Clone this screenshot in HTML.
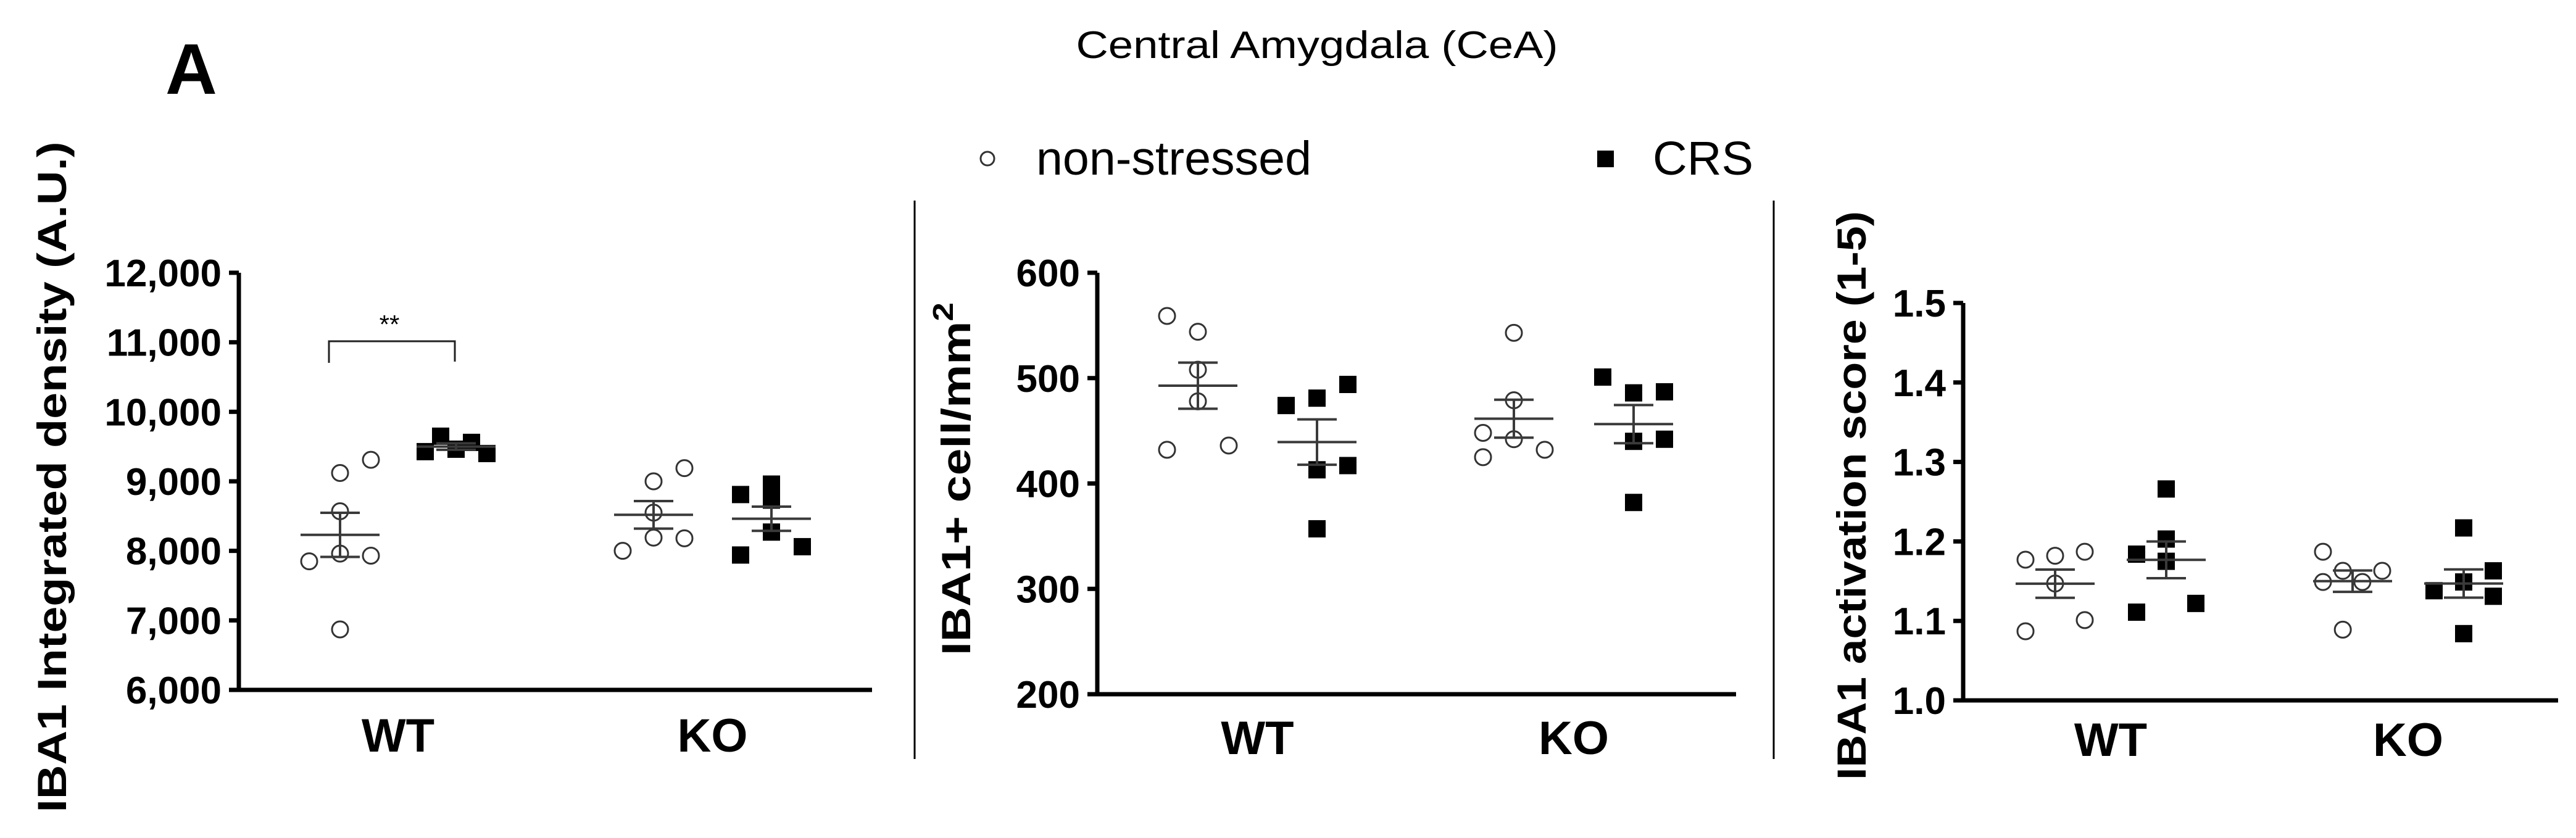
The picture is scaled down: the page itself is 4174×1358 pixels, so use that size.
<!DOCTYPE html>
<html><head><meta charset="utf-8"><style>
html,body{margin:0;padding:0;background:#fff}
svg{display:block}
text{font-family:"Liberation Sans",Arial,sans-serif}
</style></head><body>
<svg id="fig" width="4174" height="1358" viewBox="0 0 4174 1358" xmlns="http://www.w3.org/2000/svg">
<text x="268" y="152" font-size="116" font-weight="bold">A</text>
<text x="2134" y="94" font-size="62" text-anchor="middle" textLength="781" lengthAdjust="spacingAndGlyphs">Central Amygdala (CeA)</text>
<circle cx="1600" cy="257" r="11" fill="none" stroke="#333" stroke-width="3"/>
<text x="1679" y="283" font-size="77" textLength="446" lengthAdjust="spacingAndGlyphs">non-stressed</text>
<rect x="2588" y="244" width="27" height="27" fill="#000"/>
<text x="2678" y="283" font-size="77" textLength="163" lengthAdjust="spacingAndGlyphs">CRS</text>
<line x1="1482" y1="325" x2="1482" y2="1230" stroke="#000" stroke-width="3"/>
<line x1="2874" y1="325" x2="2874" y2="1230" stroke="#000" stroke-width="3"/>
<text x="631" y="540" font-size="42" text-anchor="middle">**</text>
<path d="M533 588 V553 H737 V586" fill="none" stroke="#222" stroke-width="3"/>
<g id="plots"></g>
</svg>
<script>
// ---- Panel 1: integrated density ----
const p1Categories = ["WT", "KO"];
const p1Ticks = [6000, 7000, 8000, 9000, 10000, 11000, 12000];
const p1TickLabels = ["6,000", "7,000", "8,000", "9,000", "10,000", "11,000", "12,000"];
const p1WtNs = [9120, 9310, 8570, 7960, 7850, 7930, 6870];
const p1WtCrs = [9427, 9649, 9462, 9560, 9400];
const p1KoNs = [8000, 9000, 9190, 8550, 8190, 8180];
const p1KoCrs = [8810, 8960, 8730, 8270, 7940, 8060];
const p1WtNsCol = [0, 1, 0, 0, -1, 1, 0];
const p1WtCrsCol = [-1, -0.5, 0, 0.5, 1];
const p1KoNsCol = [-1, 0, 1, 0, 0, 1];
const p1KoCrsCol = [-1, 0, 0, 0, -1, 1];
// ---- Panel 2: cell density ----
const p2Categories = ["WT", "KO"];
const p2Ticks = [200, 300, 400, 500, 600];
const p2TickLabels = ["200", "300", "400", "500", "600"];
const p2WtNs = [559, 544, 508, 478, 432, 436];
const p2WtCrs = [474, 481, 494, 413, 417, 357];
const p2KoNs = [543, 479, 448, 442, 432, 425];
const p2KoCrs = [501, 486, 487, 440, 442, 382];
const p2WtNsCol = [-1, 0, 0, 0, -1, 1];
const p2WtCrsCol = [-1, 0, 1, 0, 1, 0];
const p2KoNsCol = [0, 0, -1, 0, 1, -1];
const p2KoCrsCol = [-1, 0, 1, 0, 1, 0];
// ---- Panel 3: activation score ----
const p3Categories = ["WT", "KO"];
const p3Ticks = [1.0, 1.1, 1.2, 1.3, 1.4, 1.5];
const p3TickLabels = ["1.0", "1.1", "1.2", "1.3", "1.4", "1.5"];
const p3WtNs = [1.177, 1.182, 1.187, 1.147, 1.087, 1.101];
const p3WtCrs = [1.266, 1.203, 1.184, 1.175, 1.111, 1.122];
const p3KoNs = [1.187, 1.163, 1.163, 1.149, 1.149, 1.089];
const p3KoCrs = [1.217, 1.163, 1.149, 1.138, 1.131, 1.084];
const p3WtNsCol = [-1, 0, 1, 0, -1, 1];
const p3WtCrsCol = [0, 0, -1, 0, -1, 1];
const p3KoNsCol = [-1, -0.33, 1, -1, 0.33, -0.33];
const p3KoCrsCol = [0, 1, 0, -1, 1, 0];

const NS = "http://www.w3.org/2000/svg";
const root = document.getElementById("plots");
function mk(tag, attrs, parent) {
  const e = document.createElementNS(NS, tag);
  for (const k in attrs) e.setAttribute(k, attrs[k]);
  (parent || root).appendChild(e);
  return e;
}
function stats(a) {
  const m = a.reduce((s, v) => s + v, 0) / a.length;
  const sd = Math.sqrt(a.reduce((s, v) => s + (v - m) * (v - m), 0) / (a.length - 1));
  return [m, sd / Math.sqrt(a.length)];
}
function panel(id, L) {
  const g = mk("g", {});
  
  
  const ymin = L.ticks[0], ymax = L.ticks[L.ticks.length - 1];
  const y = v => L.yBot - (v - ymin) / (ymax - ymin) * (L.yBot - L.yTop);
  const ax = mk("path", {d: `M${L.ax} ${L.yTop} V${L.yBot} H${L.xEnd}`, fill: "none", stroke: "#000", "stroke-width": 7}, g);
  
  
  L.ticks.forEach((t, i) => {
    const tk = mk("line", {x1: L.ax - 16, x2: L.ax, y1: y(t), y2: y(t), stroke: "#000", "stroke-width": 7}, g);
    
    
    const tl = mk("text", {x: L.ax - 28, y: y(t) + 22, "font-size": 62, "font-weight": "bold", "text-anchor": "end"}, g);
    
    
    tl.textContent = L.labels[i];
  });
  L.cats.forEach((c, i) => {
    const cl = mk("text", {x: (L.centers[2 * i] + L.centers[2 * i + 1]) / 2, y: L.yBot + L.labOff, "font-size": 76, "font-weight": "bold", "text-anchor": "middle"}, g);
    
    
    cl.textContent = c;
  });
  const yl = mk("text", {transform: `translate(${L.ylx},${L.yly}) rotate(-90)`, "font-size": 66, "font-weight": "bold", "text-anchor": "middle", textLength: L.ylw, lengthAdjust: "spacingAndGlyphs"}, g);
  
  
  yl.innerHTML = L.ytitle;
  L.groups.forEach((grp, gi) => {
    const cx = L.centers[gi];
    const filled = gi % 2 === 1;
    grp.vals.forEach((v, j) => {
      const px = cx + grp.cols[j] * L.off, py = y(v);
      let m;
      if (filled) m = mk("rect", {x: px - 14, y: py - 14, width: 28, height: 28, fill: "#000"}, g);
      else m = mk("circle", {cx: px, cy: py, r: 13, fill: "none", stroke: "#333", "stroke-width": 3}, g);
      
      
    });
    const [mean, sem] = stats(grp.vals);
    const err = mk("path", {d: `M${cx - 64} ${y(mean)} H${cx + 64} M${cx - 32} ${y(mean + sem)} H${cx + 32} M${cx - 32} ${y(mean - sem)} H${cx + 32} M${cx} ${y(mean + sem)} V${y(mean - sem)}`, fill: "none", stroke: "#3a3a3a", "stroke-width": 4}, g);
    
    
  });
}
panel("panel-integrated-density", {ax: 387, yTop: 442, yBot: 1118, xEnd: 1413, off: 50, labOff: 100,
  ticks: p1Ticks, labels: p1TickLabels, cats: p1Categories, centers: [551, 739, 1059, 1250],
  ylx: 107, yly: 773, ylw: 1087, ytitle: "IBA1 Integrated density (A.U.)",
  groups: [{vals: p1WtNs, cols: p1WtNsCol}, {vals: p1WtCrs, cols: p1WtCrsCol}, {vals: p1KoNs, cols: p1KoNsCol}, {vals: p1KoCrs, cols: p1KoCrsCol}]});
panel("panel-cell-density", {ax: 1778, yTop: 442, yBot: 1125, xEnd: 2813, off: 50, labOff: 97,
  ticks: p2Ticks, labels: p2TickLabels, cats: p2Categories, centers: [1941, 2134, 2453, 2647],
  ylx: 1572, yly: 776, ylw: 572, ytitle: 'IBA1+ cell/mm<tspan dy="-28" font-size="46">2</tspan>',
  groups: [{vals: p2WtNs, cols: p2WtNsCol}, {vals: p2WtCrs, cols: p2WtCrsCol}, {vals: p2KoNs, cols: p2KoNsCol}, {vals: p2KoCrs, cols: p2KoCrsCol}]});
panel("panel-activation-score", {ax: 3181, yTop: 491, yBot: 1135, xEnd: 4145, off: 48, labOff: 90,
  ticks: p3Ticks, labels: p3TickLabels, cats: p3Categories, centers: [3330, 3510, 3812, 3992],
  ylx: 3023, yly: 803, ylw: 922, ytitle: "IBA1 activation score (1-5)",
  groups: [{vals: p3WtNs, cols: p3WtNsCol}, {vals: p3WtCrs, cols: p3WtCrsCol}, {vals: p3KoNs, cols: p3KoNsCol}, {vals: p3KoCrs, cols: p3KoCrsCol}]});
</script>
</body></html>
